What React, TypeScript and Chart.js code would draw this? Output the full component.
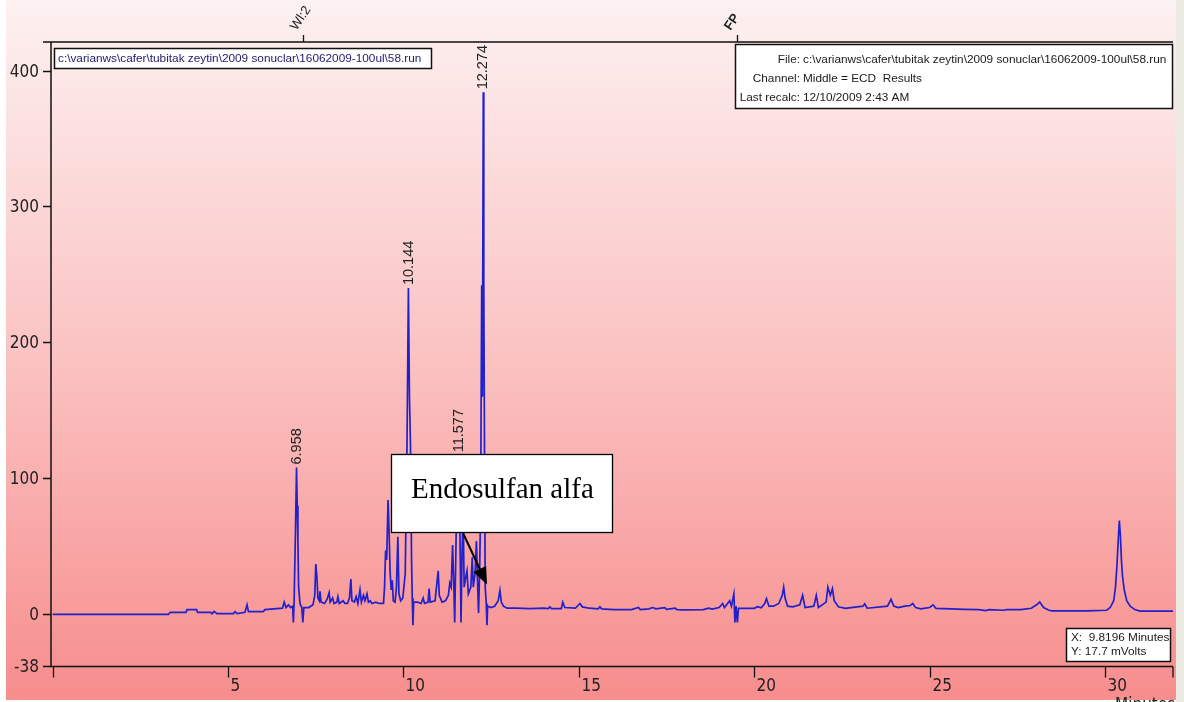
import React, { useEffect, useRef } from 'react';
import { Chart, registerables } from 'chart.js';

Chart.register(...registerables);

// Retention time (minutes) and detector signal (mVolts)
const retentionTimes = [
  0.0, 3.3, 3.35, 3.8, 3.83, 4.1, 4.13, 4.5, 4.54, 4.6,
  4.68, 5.15, 5.2, 5.26, 5.48, 5.54, 5.58, 6.0, 6.05, 6.3,
  6.55, 6.6, 6.65, 6.72, 6.78, 6.84, 6.86, 6.88, 6.92, 6.95,
  6.97, 6.99, 7.01, 7.05, 7.1, 7.13, 7.16, 7.3, 7.42, 7.47,
  7.5, 7.53, 7.56, 7.6, 7.62, 7.65, 7.75, 7.82, 7.88, 7.91,
  7.98, 8.02, 8.1, 8.13, 8.17, 8.28, 8.33, 8.4, 8.46, 8.5,
  8.53, 8.6, 8.65, 8.7, 8.76, 8.8, 8.86, 8.9, 8.96, 9.0,
  9.05, 9.1, 9.21, 9.3, 9.43, 9.46, 9.49, 9.52, 9.56, 9.59,
  9.62, 9.65, 9.68, 9.71, 9.76, 9.8, 9.84, 9.87, 9.92, 9.98,
  10.05, 10.1, 10.14, 10.17, 10.2, 10.23, 10.25, 10.27, 10.29, 10.4,
  10.5, 10.56, 10.6, 10.7, 10.73, 10.76, 10.9, 10.96, 10.99, 11.02,
  11.1, 11.2, 11.28, 11.32, 11.36, 11.4, 11.43, 11.46, 11.49, 11.52,
  11.55, 11.58, 11.61, 11.64, 11.67, 11.7, 11.73, 11.78, 11.81, 11.85,
  11.92, 11.96, 11.99, 12.04, 12.08, 12.11, 12.14, 12.17, 12.2, 12.23,
  12.25, 12.275, 12.29, 12.31, 12.33, 12.36, 12.38, 12.4, 12.5, 12.6,
  12.7, 12.75, 12.79, 12.85, 12.95, 13.2, 13.6, 14.0, 14.13, 14.17,
  14.22, 14.5, 14.54, 14.6, 14.9, 15.03, 15.1, 15.3, 15.55, 15.6,
  15.65, 16.0, 16.5, 16.7, 16.75, 17.0, 17.1, 17.2, 17.45, 17.5,
  17.75, 17.8, 18.0, 18.55, 18.7, 18.8, 19.0, 19.1, 19.15, 19.3,
  19.35, 19.42, 19.45, 19.48, 19.52, 19.55, 20.0, 20.1, 20.2, 20.3,
  20.35, 20.42, 20.55, 20.7, 20.8, 20.84, 20.88, 20.95, 21.1, 21.3,
  21.38, 21.45, 21.7, 21.77, 21.83, 22.05, 22.1, 22.17, 22.23, 22.28,
  22.4, 22.6, 23.1, 23.15, 23.22, 23.8, 23.9, 23.98, 24.1, 24.3,
  24.45, 24.52, 24.6, 24.75, 25.0, 25.1, 25.18, 25.6, 26.0, 26.4,
  26.6, 26.7, 27.1, 27.2, 27.6, 27.9, 28.05, 28.14, 28.25, 28.4,
  28.5, 29.5, 30.05, 30.15, 30.25, 30.3, 30.34, 30.38, 30.41, 30.44,
  30.47, 30.5, 30.55, 30.62, 30.72, 30.85, 31.0, 31.94,
];

const signalMv = [
  0, 0, 1.5, 1.5, 3.5, 3.5, 1.5, 1.5, 0.5, 2.2,
  0.5, 0.5, 2, 0.5, 1.5, 7, 2, 2, 3.5, 4,
  4.5, 9, 5, 7, 5, 6, -6, 8, 60, 108,
  80, 54, 20, 8, 5, -6, 5, 5, 7, 14,
  37, 28, 12, 10, 17, 9, 8, 11, 16, 9,
  12, 8, 9, 13, 8, 10, 8, 8, 12, 26,
  10, 9, 13, 8, 18, 9, 14, 10, 15, 9,
  10, 8, 9, 8, 8, 20, 47, 40, 84, 60,
  30, 18, 25, 10, 9, 20, 57, 15, 10, 12,
  30, 124, 240, 160, 124, 40, 12, -8, 9, 9,
  8, 12, 8, 9, 19, 9, 10, 25, 32, 14,
  9, 10, 14, 23, 20, 51, 25, -6, 40, 90,
  60, 117, 60, -6, 45, 75, 20, 28, 32, 15,
  20, 42, 20, 30, 54, 25, 1, 30, 80, 242,
  160, 384, 242, 120, 20, 8, -8, 6, 5, 6,
  10, 17.6, 9, 6, 4.5, 4.5, 4.2, 4.5, 4.2, 5.6,
  4.2, 4.2, 9, 5, 4.5, 8, 5.5, 4.5, 4, 5.5,
  4, 3.5, 3.5, 5, 3.5, 4, 5, 4, 5, 3.7,
  4.5, 3.5, 3.3, 3.5, 4.5, 3.8, 5, 8, 5, 10,
  6, 15, -6, 6, -6, 4.4, 4.4, 5.6, 4.8, 8,
  11.6, 6, 6, 8, 14, 20, 12, 6, 5.5, 7,
  14, 5, 6, 14, 5, 9, 20, 14, 19, 10,
  5.6, 4.4, 6, 7.8, 4.5, 6, 11, 6, 5, 6,
  6.5, 8, 5, 4, 5, 7, 4.4, 4, 3.7, 3.5,
  2.8, 3.5, 3, 3.5, 3.5, 4.5, 7, 9, 5, 3,
  2.5, 2.5, 3, 5, 10, 20, 35, 55, 69, 58,
  40, 28, 18, 10, 6, 3.5, 2.4, 2.4,
];

// Labelled peaks
const peakTimes = [6.958, 10.144, 11.577, 12.274];
const peakHeights = [108, 240, 117, 384];
const peakLabels = ['6.958', '10.144', '11.577', '12.274'];

// Axis ticks
const xTickValues = [0, 5, 10, 15, 20, 25, 30];
const xTickLabels = ['', '5', '10', '15', '20', '25', '30'];
const yTickValues = [400, 300, 200, 100, 0, -38];
const yTickLabels = ['400', '300', '200', '100', '0', '-38'];

// Event markers along the top
const eventTimes = [7.14, 19.51];
const eventLabels = ['Wl:2', 'FP'];

// Annotation target (arrow tip) in data units
const arrowTarget = { t: 12.38, v: 22 };

const filePath = 'c:\\varianws\\cafer\\tubitak zeytin\\2009 sonuclar\\16062009-100ul\\58.run';
const infoLabels = ['File:', 'Channel:', 'Last recalc:'];
const infoValues = [filePath, 'Middle = ECD  Results', '12/10/2009 2:43 AM'];
const cursorLines = ['X:  9.8196 Minutes', 'Y: 17.7 mVolts'];

const W = 1184;
const H = 702;
const NARROW = '"Liberation Sans Narrow", "Arial Narrow", "DejaVu Sans Condensed", sans-serif';
const SANS = '"Liberation Sans", Arial, sans-serif';
const SERIF = '"Liberation Serif", "Times New Roman", serif';

const backgroundPlugin = {
  id: 'bgPlugin',
  beforeDraw(chart: any) {
    const ctx = chart.ctx;
    ctx.save();
    const g = ctx.createLinearGradient(0, 0, 0, H);
    g.addColorStop(0, '#fdf1f1');
    g.addColorStop(0.5, '#fbc3c3');
    g.addColorStop(1, '#f78d8d');
    ctx.fillStyle = g;
    ctx.fillRect(0, 0, W, H);
    ctx.fillStyle = '#ffffff';
    ctx.fillRect(0, 0, 6, H);
    ctx.fillRect(0, H - 2, W, 2);
    ctx.fillStyle = '#ecebe3';
    ctx.fillRect(1176, 0, W - 1176, H);
    ctx.restore();
  },
};

const overlayPlugin = {
  id: 'overlayPlugin',
  afterDraw(chart: any) {
    const ctx = chart.ctx;
    const xs = chart.scales.x;
    const ys = chart.scales.y;
    const a = chart.chartArea;
    const left = a.left;
    const right = a.right;
    const top = a.top;
    const bottom = a.bottom + 0.5;
    ctx.save();

    // axes
    ctx.strokeStyle = '#111';
    ctx.lineWidth = 1.5;
    ctx.beginPath();
    ctx.moveTo(left, top);
    ctx.lineTo(left, bottom);
    ctx.lineTo(right, bottom);
    ctx.moveTo(left - 8, top);
    ctx.lineTo(right, top);
    ctx.stroke();

    // y ticks
    ctx.fillStyle = '#222';
    ctx.font = `17px ${NARROW}`;
    ctx.textAlign = 'right';
    ctx.textBaseline = 'middle';
    yTickValues.forEach((v, i) => {
      const py = Math.round(ys.getPixelForValue(v)) + 0.5;
      ctx.beginPath();
      ctx.moveTo(left - 8, py);
      ctx.lineTo(left, py);
      ctx.stroke();
      ctx.fillText(yTickLabels[i], left - 12, py + 1);
    });

    // x ticks
    ctx.lineWidth = 1.3;
    ctx.textAlign = 'left';
    ctx.textBaseline = 'top';
    xTickValues.forEach((t, i) => {
      const px = Math.round(xs.getPixelForValue(t)) + 0.5;
      ctx.beginPath();
      ctx.moveTo(px, bottom);
      ctx.lineTo(px, bottom + 11);
      ctx.stroke();
      if (xTickLabels[i]) ctx.fillText(xTickLabels[i], px + 2, bottom + 12);
    });
    ctx.beginPath();
    ctx.moveTo(right, bottom);
    ctx.lineTo(right, bottom + 11);
    ctx.stroke();
    ctx.fillText('Minutes', 1115, 697);

    // event markers on top
    eventTimes.forEach((t, i) => {
      const px = Math.round(xs.getPixelForValue(t)) + 0.5;
      ctx.beginPath();
      ctx.moveTo(px, top - 7);
      ctx.lineTo(px, top);
      ctx.stroke();
      ctx.save();
      ctx.translate(px - 7, top - 11);
      ctx.rotate(-Math.PI / 3.2);
      ctx.font = i === 0 ? `13px ${SANS}` : `bold 13px ${SANS}`;
      ctx.textAlign = 'left';
      ctx.textBaseline = 'alphabetic';
      ctx.fillStyle = '#222';
      ctx.fillText(eventLabels[i], 0, 0);
      ctx.restore();
    });

    // peak labels
    ctx.font = `14.5px ${SANS}`;
    ctx.fillStyle = '#222';
    peakTimes.forEach((t, i) => {
      const px = xs.getPixelForValue(t);
      const py = ys.getPixelForValue(peakHeights[i]);
      ctx.save();
      ctx.translate(px, py - 3);
      ctx.rotate(-Math.PI / 2);
      ctx.textAlign = 'left';
      ctx.textBaseline = 'middle';
      ctx.fillText(peakLabels[i], 0, 0);
      ctx.restore();
    });

    // file label box (top left)
    ctx.font = `11.8px ${SANS}`;
    ctx.lineWidth = 1.5;
    ctx.fillStyle = '#ffffff';
    ctx.fillRect(54.5, 48.5, 377, 20);
    ctx.strokeStyle = '#111';
    ctx.strokeRect(54.5, 48.5, 377, 20);
    ctx.fillStyle = '#1c1c6e';
    ctx.textAlign = 'left';
    ctx.textBaseline = 'middle';
    ctx.fillText(filePath, 58, 59);

    // info box (top right)
    ctx.fillStyle = '#ffffff';
    ctx.fillRect(735.5, 44.5, 437, 64);
    ctx.strokeRect(735.5, 44.5, 437, 64);
    ctx.fillStyle = '#1a1a1a';
    const infoY = [60, 79, 98];
    infoLabels.forEach((lab, i) => {
      ctx.textAlign = 'right';
      ctx.fillText(lab, 800, infoY[i]);
      ctx.textAlign = 'left';
      ctx.fillText(infoValues[i], 803, infoY[i]);
    });

    // cursor box (bottom right)
    ctx.fillStyle = '#ffffff';
    ctx.fillRect(1066.5, 628.5, 104, 33);
    ctx.strokeRect(1066.5, 628.5, 104, 33);
    ctx.fillStyle = '#1a1a1a';
    ctx.textAlign = 'left';
    ctx.fillText(cursorLines[0], 1071, 638);
    ctx.fillText(cursorLines[1], 1071, 652);

    // Endosulfan annotation
    ctx.fillStyle = '#ffffff';
    ctx.fillRect(391.5, 454.5, 221, 78);
    ctx.strokeStyle = '#000';
    ctx.lineWidth = 1.3;
    ctx.strokeRect(391.5, 454.5, 221, 78);
    ctx.fillStyle = '#000';
    ctx.font = `29px ${SERIF}`;
    ctx.textAlign = 'left';
    ctx.textBaseline = 'alphabetic';
    ctx.fillText('Endosulfan alfa', 411, 498);

    const tx = xs.getPixelForValue(arrowTarget.t);
    const ty = ys.getPixelForValue(arrowTarget.v);
    const sx = 463;
    const sy = 533;
    const ang = Math.atan2(ty - sy, tx - sx);
    const headLen = 17;
    const headW = 7;
    const bx = tx - headLen * Math.cos(ang);
    const by = ty - headLen * Math.sin(ang);
    ctx.lineWidth = 2;
    ctx.beginPath();
    ctx.moveTo(sx, sy);
    ctx.lineTo(bx, by);
    ctx.stroke();
    ctx.beginPath();
    ctx.moveTo(tx, ty);
    ctx.lineTo(bx + headW * Math.sin(ang), by - headW * Math.cos(ang));
    ctx.lineTo(bx - headW * Math.sin(ang), by + headW * Math.cos(ang));
    ctx.closePath();
    ctx.fill();

    ctx.restore();
  },
};

export default function App() {
  const canvasRef = useRef<HTMLCanvasElement | null>(null);

  useEffect(() => {
    const canvas = canvasRef.current;
    if (!canvas) return;
    const points = retentionTimes.map((t, i) => ({ x: t, y: signalMv[i] }));
    const chart = new Chart(canvas, {
      type: 'line',
      data: {
        datasets: [
          {
            data: points,
            borderColor: '#2020cc',
            borderWidth: 1.7,
            pointRadius: 0,
            tension: 0,
            fill: false,
          },
        ],
      },
      options: {
        animation: false,
        responsive: false,
        maintainAspectRatio: false,
        devicePixelRatio: 1,
        events: [],
        layout: { padding: { left: 51, top: 42, right: 11, bottom: 36 } },
        plugins: {
          legend: { display: false },
          tooltip: { enabled: false },
          title: { display: false },
        },
        scales: {
          x: { type: 'linear', min: -0.05, max: 31.94, display: false },
          y: { type: 'linear', min: -38, max: 421, display: false },
        },
      },
      plugins: [backgroundPlugin, overlayPlugin],
    } as any);
    return () => chart.destroy();
  }, []);

  return (
    <div style={{ position: 'fixed', left: 0, top: 0, width: W, height: H }}>
      <canvas ref={canvasRef} width={W} height={H} style={{ display: 'block', width: W, height: H }} />
    </div>
  );
}
